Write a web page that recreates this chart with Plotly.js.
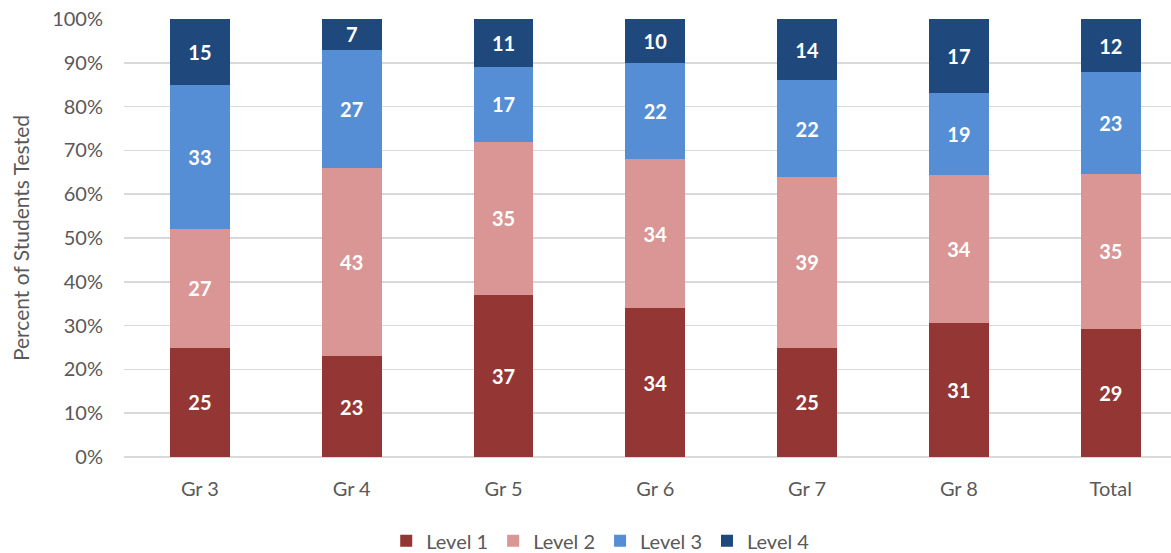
<!DOCTYPE html>
<html>
<head>
<meta charset="utf-8">
<script src="https://cdn.plot.ly/plotly-3.0.1.min.js"></script>
<style>html,body{margin:0;padding:0;background:#fff;}#chart{width:1171px;height:553px;}</style>
</head>
<body>
<div id="chart"></div>
<script>
const categories = ["Gr 3", "Gr 4", "Gr 5", "Gr 6", "Gr 7", "Gr 8", "Total"];
const level1 = [25, 23, 37, 34, 25, 31, 29];
const level2 = [27, 43, 35, 34, 39, 34, 35];
const level3 = [33, 27, 17, 22, 22, 19, 23];
const level4 = [15, 7, 11, 10, 14, 17, 12];
const seriesNames = ["Level 1", "Level 2", "Level 3", "Level 4"];
const seriesColors = ["#943634", "#D99694", "#558ED5", "#1F497D"];
const tickVals = [0, 10, 20, 30, 40, 50, 60, 70, 80, 90, 100];
const tickText = ["0%", "10%", "20%", "30%", "40%", "50%", "60%", "70%", "80%", "90%", "100%"];

const FONT = "Lato, 'Open Sans', sans-serif";
const series = [level1, level2, level3, level4];
const traces = series.map((vals, i) => ({
  type: "bar",
  name: seriesNames[i],
  x: categories,
  y: vals,
  text: vals.map(String),
  texttemplate: "%{text}",
  textposition: "inside",
  insidetextanchor: "middle",
  textangle: 0,
  textfont: {family: FONT, size: 20, color: "#ffffff", weight: "bold"},
  marker: {color: seriesColors[i], line: {width: 0}},
  width: 0.395,
  hoverinfo: "skip"
}));

const layout = {
  width: 1171, height: 553,
  margin: {l: 124, r: 0, t: 19, b: 96, autoexpand: false},
  barmode: "stack",
  barnorm: "percent",
  paper_bgcolor: "#ffffff",
  plot_bgcolor: "#ffffff",
  font: {family: FONT, size: 20, color: "#595959"},
  xaxis: {
    type: "category",
    range: [-0.5, 6.397],
    showgrid: false, zeroline: false, showline: false,
    ticks: "", ticklabelstandoff: 18, automargin: false,
    tickfont: {family: FONT, size: 20, color: "#595959"}
  },
  yaxis: {
    range: [0, 100],
    tickvals: tickVals, ticktext: tickText,
    showgrid: true, gridcolor: "#d9d9d9", gridwidth: 1.5,
    zeroline: true, zerolinecolor: "#d9d9d9", zerolinewidth: 1.5,
    showline: false, ticks: "", ticklabelstandoff: 20, automargin: false,
    tickfont: {family: FONT, size: 20, color: "#595959"},
    title: {text: "Percent of Students Tested", font: {family: FONT, size: 21, color: "#595959"}, standoff: 16}
  },
  legend: {
    orientation: "h",
    xref: "container", yref: "container",
    x: 0.513, xanchor: "center",
    y: 0.022, yanchor: "middle",
    font: {family: FONT, size: 20, color: "#595959"},
    traceorder: "normal",
    itemwidth: 30
  },
  showlegend: true
};

Plotly.newPlot("chart", traces, layout, {displayModeBar: false, staticPlot: true});
</script>
</body>
</html>
